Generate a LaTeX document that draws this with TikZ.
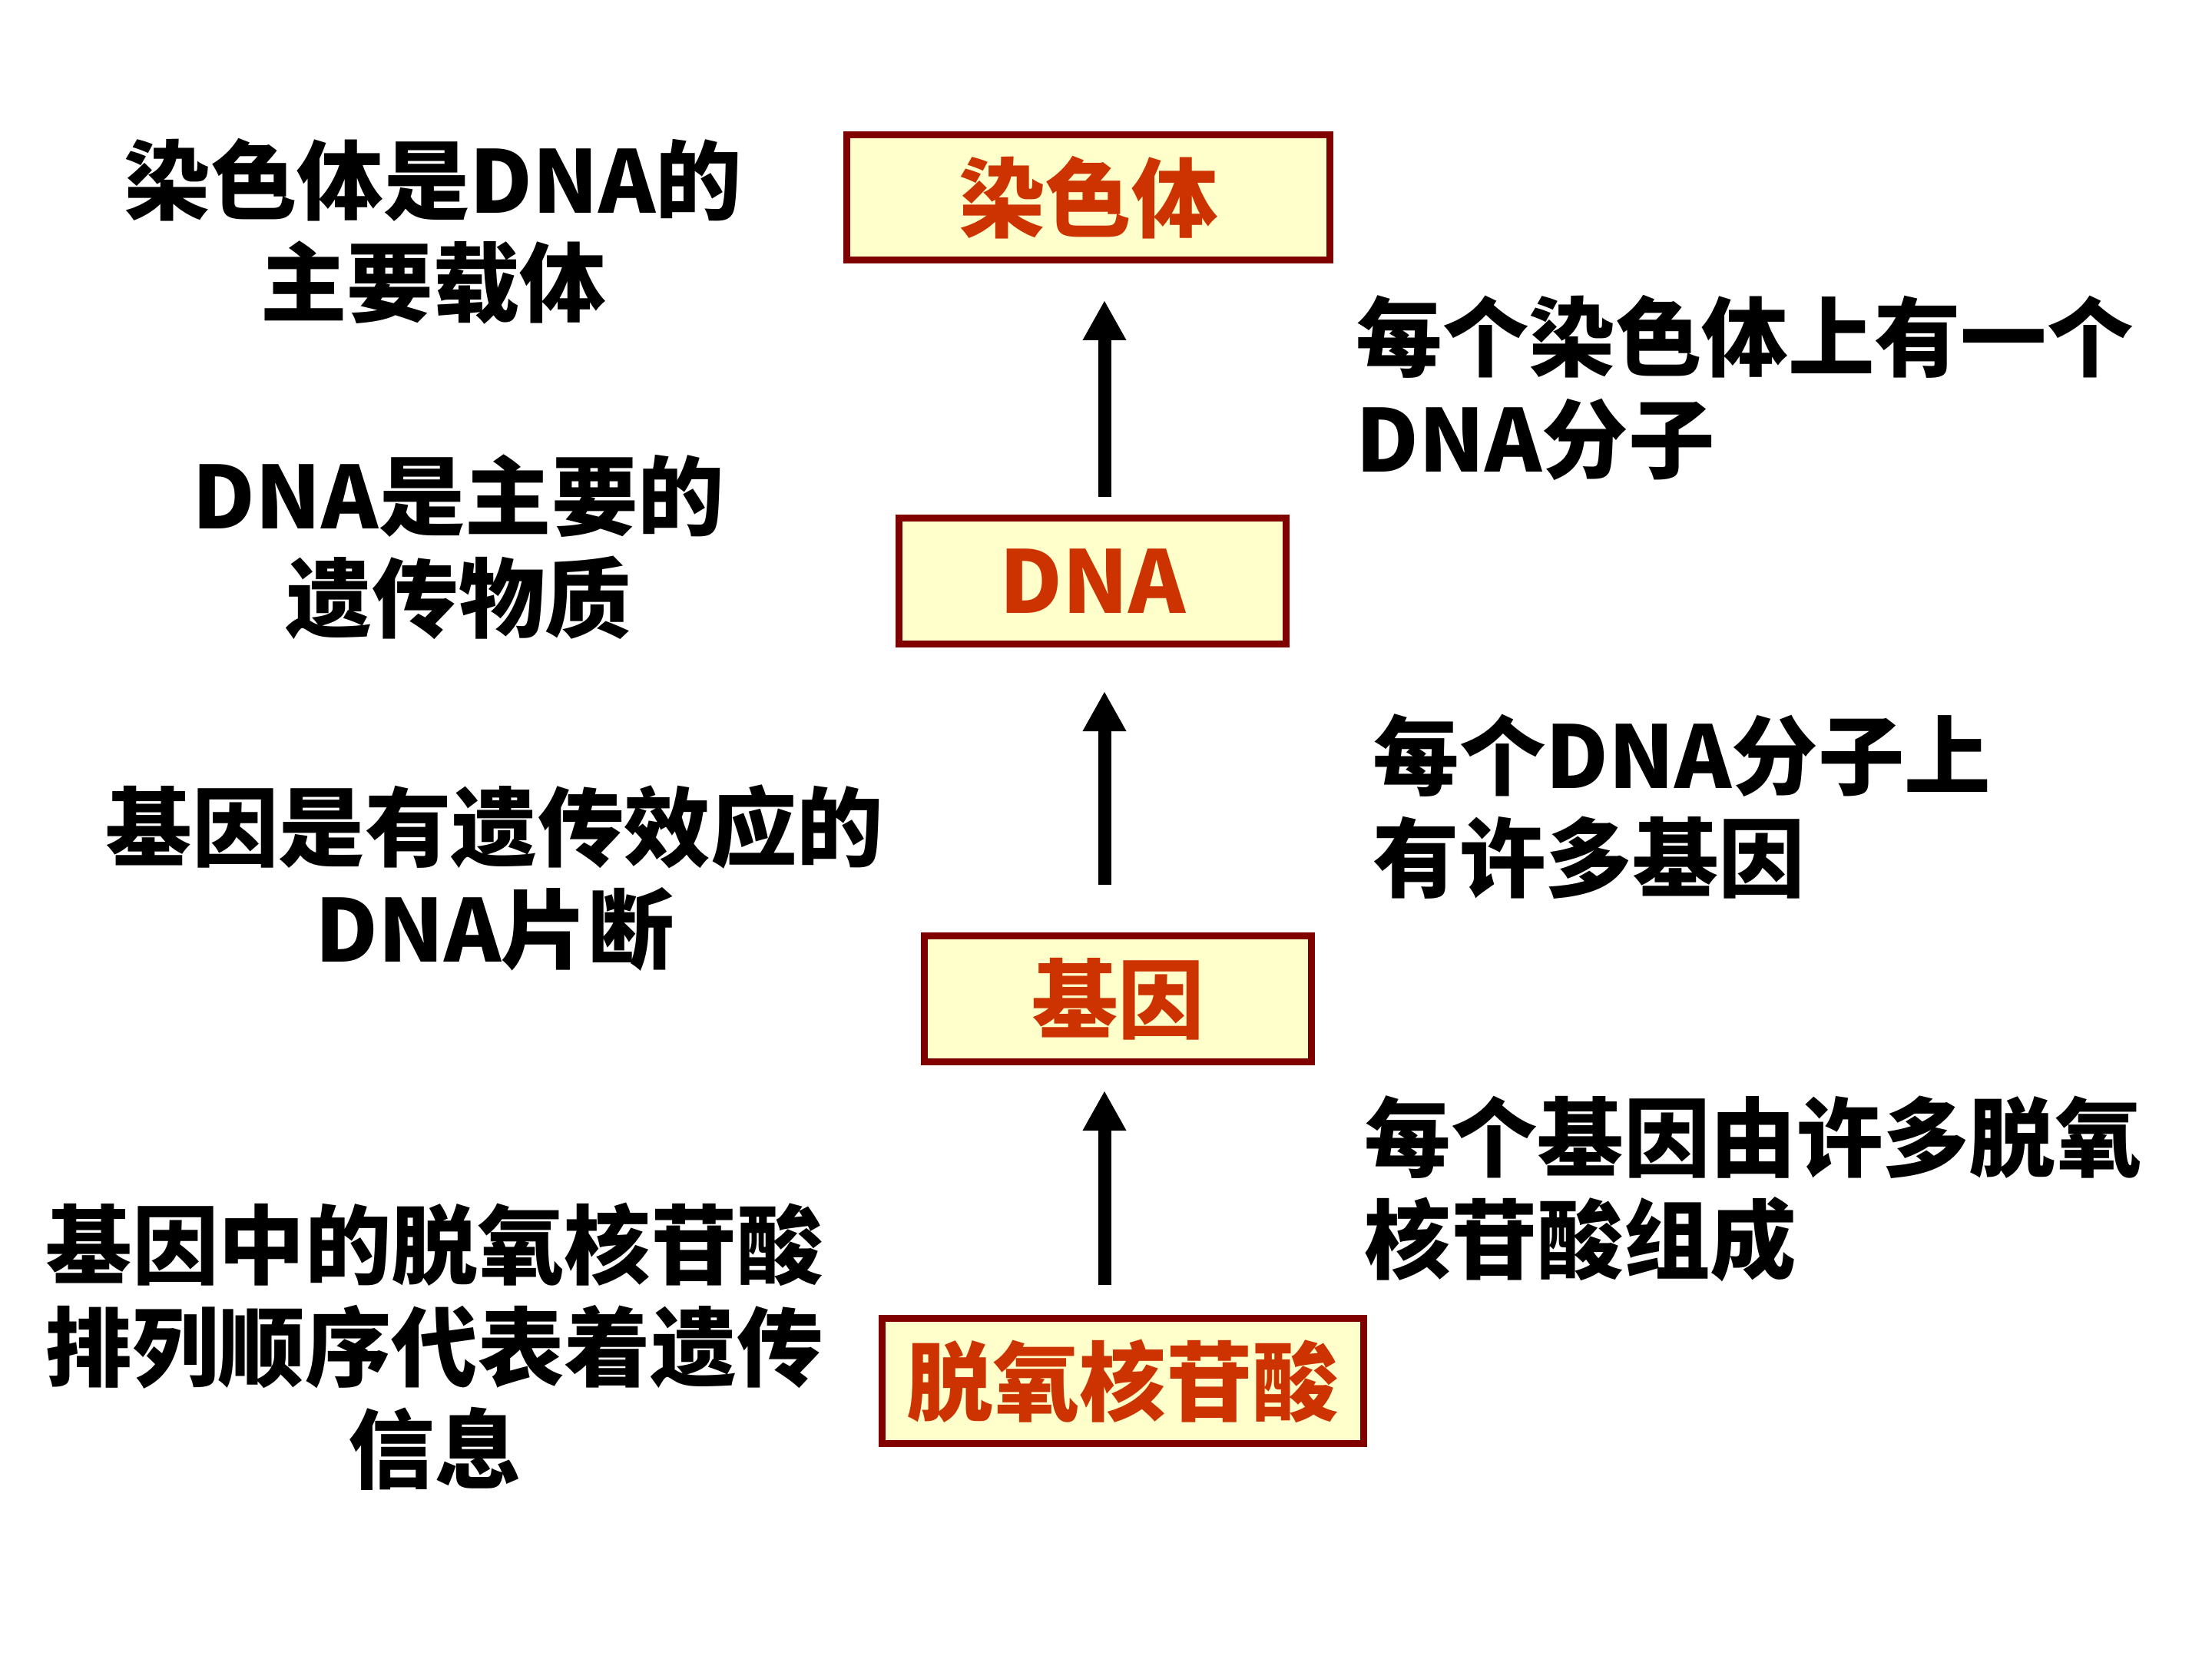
\documentclass[tikz,border=0pt]{standalone}
\usepackage{fontspec}
\setmainfont{Noto Sans CJK SC}
\usepackage{xcolor}
\usetikzlibrary{arrows.meta}

\definecolor{boxfill}{HTML}{FFFFCC}
\definecolor{boxline}{HTML}{800000}
\definecolor{boxtext}{HTML}{CC3300}

\tikzset{
  box/.style={draw=boxline, line width=0.09cm, fill=boxfill, text=boxtext,
    inner sep=0pt, font=\bfseries\fontsize{32}{38}\selectfont},
  note/.style={inner sep=0pt, align=center, font=\bfseries\fontsize{32}{37.8}\selectfont},
  rnote/.style={note, align=left, anchor=west},
  uparrow/.style={line width=0.17cm, -{Triangle[length=0.52cm, width=0.53cm]}}
}

\begin{document}
\begin{tikzpicture}[x=1cm, y=-1cm]
  \useasboundingbox (0,0) rectangle (28.8,21.6);

  % Boxes
  \node[box, minimum width=6.29cm, minimum height=1.63cm] (chrom) at (14.17, 2.57) {染色体};
  \node[box, minimum width=5.04cm, minimum height=1.64cm] (dna) at (14.225, 7.565) {DNA};
  \node[box, minimum width=5.04cm, minimum height=1.64cm] (gene) at (14.555, 13.005) {基因};
  \node[box, minimum width=6.27cm, minimum height=1.63cm] (nuc) at (14.62, 17.98) {脱氧核苷酸};

  % Arrows
  \coordinate (ax) at (14.38, 0);
  \draw[uparrow, shorten <=0.23cm, shorten >=0.48cm] (dna.north -| ax) -- (chrom.south -| ax);
  \draw[uparrow, shorten <=0.62cm, shorten >=0.57cm] (gene.north -| ax) -- (dna.south -| ax);
  \draw[uparrow, shorten <=0.39cm, shorten >=0.33cm] (nuc.north -| ax) -- (gene.south -| ax);

  % Left notes
  \node[note] (l1) at (5.64, 3.01) {染色体是DNA的\\主要载体};
  \node[note] (l2) at (5.97, 7.12) {DNA是主要的\\遗传物质};
  \node[note] (l3) at (6.44, 11.43) {基因是有遗传效应的\\DNA片断};
  \node[note] (l4) at (5.66, 17.53) {基因中的脱氧核苷酸\\排列顺序代表着遗传\\信息};

  % Right notes
  \node[rnote] (r1) at (17.65, 5.05) {每个染色体上有一个\\DNA分子};
  \node[rnote] (r2) at (17.87, 10.50) {每个DNA分子上\\有许多基因};
  \node[rnote] (r3) at (17.76, 15.48) {每个基因由许多脱氧\\核苷酸组成};
\end{tikzpicture}
\end{document}
